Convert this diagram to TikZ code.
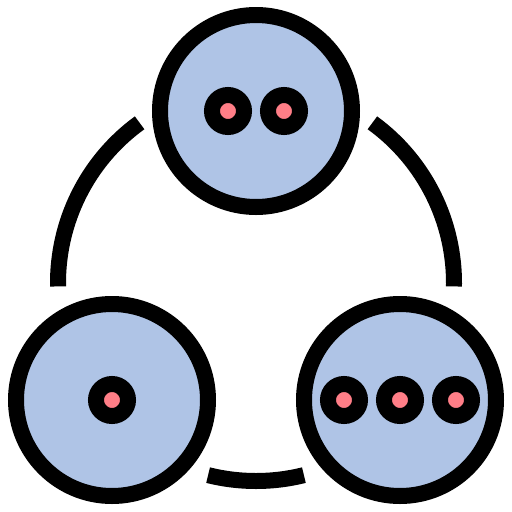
\documentclass[tikz,border=0pt]{standalone}
\usepackage{tikz}
\usetikzlibrary{positioning}
\definecolor{cellblue}{RGB}{175,196,230}
\definecolor{dotpink}{RGB}{255,126,135}

\begin{document}
\begin{tikzpicture}[
  x=1pt, y=-1pt,
  cell/.style={circle, draw=black, fill=cellblue, line width=16pt, minimum size=192pt, inner sep=0pt},
  dot/.style={circle, draw=black, fill=dotpink, line width=16pt, minimum size=32pt, inner sep=0pt},
  link/.style={draw=black, line width=16pt, line cap=butt}
]
\useasboundingbox (0,0) rectangle (512,512);
\coordinate (hub) at (256,283);
% the three cells
\node[cell] (top) at (256,111) {};
\node[cell] (left) at (112,400) {};
\node[cell] (right) at (400,400) {};
% dots inside
\node[dot] (t1) at (228,111) {};
\node[dot] (t2) at (284,111) {};
\node[dot] (l1) at (112,400) {};
\node[dot] (r1) at (344,400) {};
\node[dot] (r2) at (400,400) {};
\node[dot] (r3) at (456,400) {};
% arcs between the cells
\draw[link] (hub) ++(179:198) arc[start angle=179, end angle=234, radius=198];
\draw[link] (hub) ++(306:198) arc[start angle=306, end angle=361, radius=198];
\draw[link] (hub) ++(76:198) arc[start angle=76, end angle=104, radius=198];
\end{tikzpicture}
\end{document}
